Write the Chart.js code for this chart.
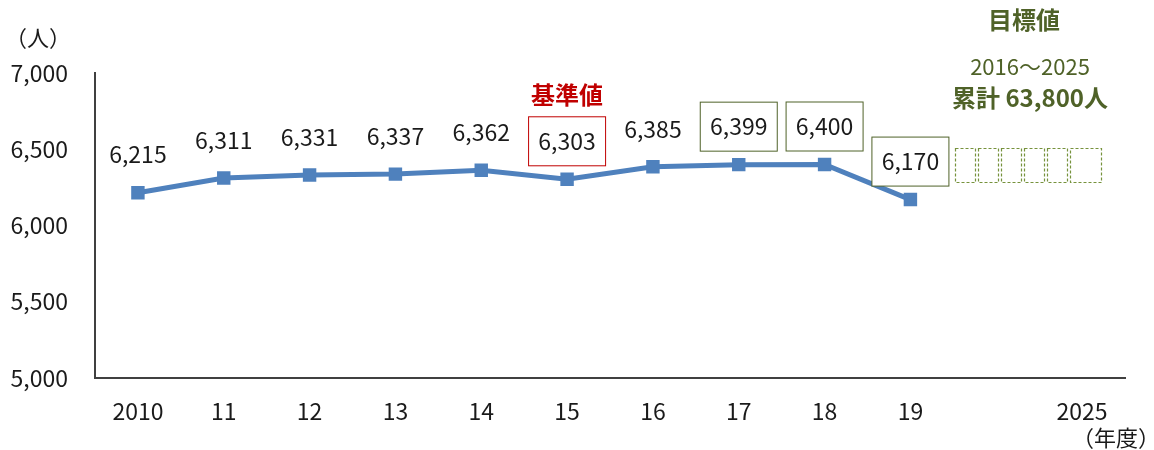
<!DOCTYPE html>
<html lang="ja">
<head>
<meta charset="utf-8">
<title>人数の推移</title>
<script src="https://cdn.jsdelivr.net/npm/chart.js@4"></script>
<style>
  html, body { margin: 0; padding: 0; background: #fff; }
  #wrap { width: 1154px; height: 450px; position: relative; }
</style>
</head>
<body>
<div id="wrap"><canvas id="chart" width="1154" height="450"></canvas></div>
<script>
// === Données ===
const years = ['2010', '11', '12', '13', '14', '15', '16', '17', '18', '19', '', '2025'];
const persons = [6215, 6311, 6331, 6337, 6362, 6303, 6385, 6399, 6400, 6170, null, null];
const yTicks = [5000, 5500, 6000, 6500, 7000];

const FONT = '"Noto Sans CJK JP", "Noto Sans", sans-serif';
const LINE_BLUE = '#4f81bd';
const RED = '#c00000';
const OLIVE = '#4f6228';

// étiquettes encadrées : index -> couleur du cadre
const framed = { 5: RED, 7: OLIVE, 8: OLIVE, 9: OLIVE };

// === Étiquettes de valeurs au-dessus des points ===
const valueLabels = {
  id: 'valueLabels',
  afterDatasetsDraw(chart) {
    const ctx = chart.ctx;
    const meta = chart.getDatasetMeta(0);
    ctx.save();
    ctx.font = '23px ' + FONT;
    ctx.textAlign = 'center';
    ctx.textBaseline = 'middle';
    meta.data.forEach((pt, i) => {
      const v = persons[i];
      if (v == null) return;
      const x = pt.x;
      const y = pt.y - 38;
      if (framed[i]) {
        ctx.fillStyle = '#fff';
        ctx.fillRect(x - 38.5, y - 24.5, 77, 49);
        ctx.strokeStyle = framed[i];
        ctx.lineWidth = 1;
        ctx.strokeRect(x - 38.5, y - 24.5, 77, 49);
      }
      ctx.fillStyle = '#1a1a1a';
      ctx.fillText(v.toLocaleString('en-US'), x, y);
    });
    ctx.restore();
  }
};

// === Annotations (unités, base, objectif, cases vides) ===
const annotations = {
  id: 'annotations',
  afterDraw(chart) {
    const ctx = chart.ctx;
    const xs = chart.scales.x;
    const ys = chart.scales.y;
    ctx.save();
    ctx.textAlign = 'center';
    ctx.textBaseline = 'middle';

    // unités
    ctx.fillStyle = '#1a1a1a';
    ctx.font = '22px ' + FONT;
    ctx.fillText('（人）', 38, 38);
    ctx.fillText('（年度）', 1116, 438);

    // valeur de base
    ctx.fillStyle = RED;
    ctx.font = 'bold 24px ' + FONT;
    ctx.fillText('基準値', xs.getPixelForValue(5), 95);

    // objectif
    const cx = 1030;
    ctx.fillStyle = OLIVE;
    ctx.font = 'bold 24px ' + FONT;
    ctx.fillText('目標値', cx - 6, 20);
    ctx.font = '22px ' + FONT;
    ctx.fillText('2016～2025', cx, 67);
    ctx.font = 'bold 24px ' + FONT;
    ctx.fillText('累計 63,800人', cx, 98);

    // cases pointillées pour les années restantes
    const step = xs.getPixelForValue(1) - xs.getPixelForValue(0);
    let left = xs.getPixelForValue(9) + 0.525 * step;
    const top = ys.getPixelForValue(6505);
    const bottom = ys.getPixelForValue(6280);
    ctx.strokeStyle = '#76923c';
    ctx.lineWidth = 1.2;
    ctx.setLineDash([3, 2]);
    for (let k = 0; k < 6; k++) {
      const w = k === 5 ? 31 : 20;
      ctx.strokeRect(Math.round(left) + 0.5, Math.round(top) + 0.5, w, Math.round(bottom - top));
      left += w + 3;
    }
    ctx.restore();
  }
};

new Chart(document.getElementById('chart'), {
  type: 'line',
  data: {
    labels: years,
    datasets: [{
      label: '人数',
      data: persons,
      borderColor: LINE_BLUE,
      backgroundColor: LINE_BLUE,
      borderWidth: 5,
      pointStyle: 'rect',
      pointRadius: 9.5,
      pointHoverRadius: 9.5,
      pointBorderWidth: 0,
      tension: 0,
      spanGaps: false
    }]
  },
  options: {
    responsive: false,
    animation: false,
    layout: { padding: { top: 73, right: 29, left: 0, bottom: 0 } },
    plugins: {
      legend: { display: false },
      tooltip: { enabled: false }
    },
    scales: {
      x: {
        offset: true,
        grid: { display: false, drawTicks: false },
        border: { color: '#404040', width: 2 },
        ticks: {
          color: '#1a1a1a',
          font: { family: FONT, size: 23 },
          padding: 19,
          maxRotation: 0,
          autoSkip: false
        },
        afterFit: scale => { scale.height = 72; }
      },
      y: {
        min: 5000,
        max: 7000,
        grid: { display: false, drawTicks: false },
        border: { color: '#404040', width: 2 },
        afterBuildTicks: scale => { scale.ticks = yTicks.map(v => ({ value: v })); },
        ticks: {
          color: '#1a1a1a',
          font: { family: FONT, size: 23 },
          padding: 27,
          callback: value => value.toLocaleString('en-US')
        },
        afterFit: scale => { scale.width = 95; }
      }
    }
  },
  plugins: [valueLabels, annotations]
});
</script>
</body>
</html>
